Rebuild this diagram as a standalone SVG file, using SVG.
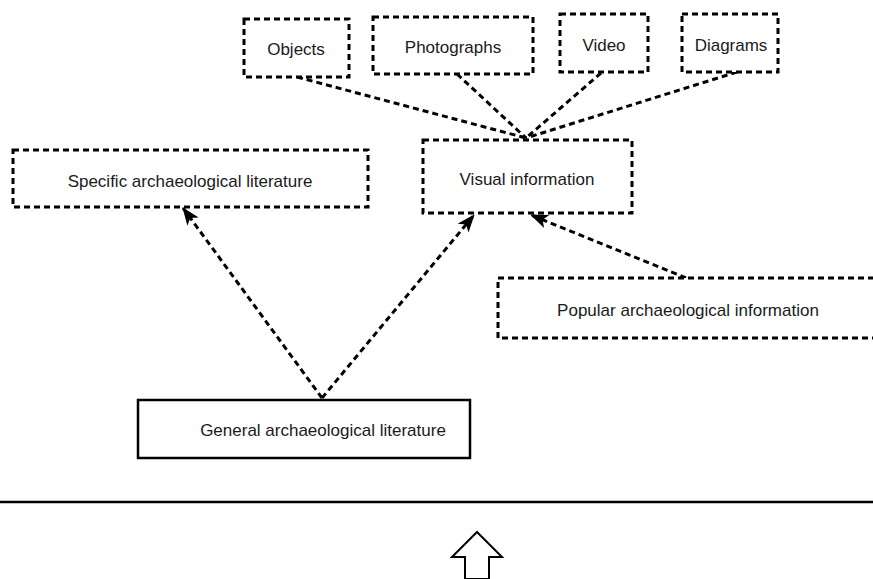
<svg xmlns="http://www.w3.org/2000/svg" width="873" height="579" viewBox="0 0 873 579">
  <defs>
    <marker id="arrow" viewBox="0 0 18 14" refX="17" refY="7" markerWidth="18" markerHeight="14" markerUnits="userSpaceOnUse" orient="auto">
      <path d="M0,0 L18,7 L0,14 L4.5,7 Z" fill="#000"/>
    </marker>
    <style>
      .dash { fill: #fff; stroke: #000; stroke-width: 3; stroke-dasharray: 6 4; }
      .solid { fill: #fff; stroke: #000; stroke-width: 2.5; }
      .link { fill: none; stroke: #000; stroke-width: 3; stroke-dasharray: 6 4; }
      .lbl { font-family: "Liberation Sans", Arial, sans-serif; font-size: 17px; fill: #1a1a1a; text-anchor: middle; dominant-baseline: central; }
    </style>
  </defs>
  <rect width="873" height="579" fill="#fff"/>

  <g id="connectors">
    <line class="link" x1="297" y1="77" x2="526" y2="138"/>
    <line class="link" x1="457" y1="74" x2="526" y2="138"/>
    <line class="link" x1="601" y1="73" x2="526" y2="138"/>
    <line class="link" x1="737" y1="72" x2="526" y2="138"/>
    <line class="link" x1="322" y1="398" x2="183" y2="208" marker-end="url(#arrow)"/>
    <line class="link" x1="322" y1="398" x2="474" y2="215" marker-end="url(#arrow)"/>
    <line class="link" x1="686" y1="278" x2="531" y2="215" marker-end="url(#arrow)"/>
  </g>

  <g id="objects">
    <rect class="dash" x="244" y="19" width="105" height="58"/>
    <text class="lbl" x="296" y="49">Objects</text>
  </g>
  <g id="photographs">
    <rect class="dash" x="373" y="17" width="160" height="57"/>
    <text class="lbl" x="453" y="47">Photographs</text>
  </g>
  <g id="video">
    <rect class="dash" x="560" y="14" width="88" height="58"/>
    <text class="lbl" x="604" y="45">Video</text>
  </g>
  <g id="diagrams">
    <rect class="dash" x="682" y="14" width="96" height="58"/>
    <text class="lbl" x="731" y="45">Diagrams</text>
  </g>
  <g id="specific">
    <rect class="dash" x="13" y="150" width="355" height="57"/>
    <text class="lbl" x="190" y="181">Specific archaeological literature</text>
  </g>
  <g id="visual">
    <rect class="dash" x="423" y="140" width="209" height="73"/>
    <text class="lbl" x="527" y="179">Visual information</text>
  </g>
  <g id="popular">
    <rect class="dash" x="498" y="278" width="390" height="60"/>
    <text class="lbl" x="688" y="310">Popular archaeological information</text>
  </g>
  <g id="general">
    <rect class="solid" x="138" y="400" width="332" height="58"/>
    <text class="lbl" x="323" y="430">General archaeological literature</text>
  </g>

  <line x1="0" y1="502" x2="873" y2="502" stroke="#000" stroke-width="2.5"/>
  <polygon points="477,532 502,557 489,557 489,579 465,579 465,557 452,557" fill="#fff" stroke="#000" stroke-width="2"/>
</svg>
